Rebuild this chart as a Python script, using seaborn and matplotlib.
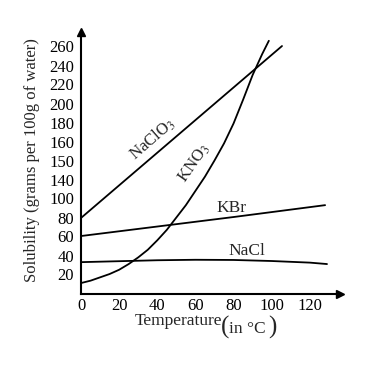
import numpy as np
import pandas as pd
import matplotlib
matplotlib.use("Agg")
import matplotlib.pyplot as plt
import seaborn as sns

# ---- data (y in evenly spaced axis units; tick labels below) ----
nacl_t = [0, 20, 40, 60, 80, 100, 120, 129]
nacl_s = [33, 34, 35, 35.5, 35.3, 34.2, 32.5, 31]

kbr_t = [0, 40, 80, 128]
kbr_s = [60.5, 70.5, 80.5, 93]

naclo3_t = [0, 105.4]
naclo3_s = [79.5, 260.5]

kno3_t = [0, 5, 10, 15, 20, 25, 30, 35, 40, 45, 50, 55, 60, 65, 70, 75, 80,
          85, 90, 95, 98.5]
kno3_s = [11, 13.5, 17, 20.5, 25, 31, 38, 46, 56, 67, 80, 93, 108, 123, 140,
          158, 179, 204, 230, 252, 266]

x_ticks = [0, 20, 40, 60, 80, 100, 120]
y_tick_pos = [20, 40, 60, 80, 100, 120, 140, 160, 180, 200, 220, 240, 260]
y_tick_labels = ["20", "40", "60", "80", "100", "140", "150", "160", "180",
                 "200", "220", "240", "260"]

frames = []
for name, t, s in [("NaCl", nacl_t, nacl_s), ("KBr", kbr_t, kbr_s),
                   ("NaClO3", naclo3_t, naclo3_s), ("KNO3", kno3_t, kno3_s)]:
    frames.append(pd.DataFrame({"T": t, "S": s, "salt": name}))
df = pd.concat(frames, ignore_index=True)

sns.set_theme(style="white")
plt.rcParams["font.family"] = ["Liberation Serif", "DejaVu Serif"]
plt.rcParams["mathtext.fontset"] = "stix"

fig = plt.figure(figsize=(3.75, 3.7), dpi=100)
ax = fig.add_axes([81/375, 1 - 293.5/370, 259/375, 261.5/370])

sns.lineplot(data=df, x="T", y="S", hue="salt", units="salt",
             estimator=None, sort=False, legend=False,
             palette={"NaCl": "black", "KBr": "black", "NaClO3": "black", "KNO3": "black"},
             linewidth=1.3, ax=ax)

ax.set_xlim(0, 259/1.907)
ax.set_ylim(0, 261.5/0.95)
ax.set_xticks(x_ticks)
ax.set_xticklabels([str(v) for v in x_ticks], fontsize=12)
ax.set_yticks(y_tick_pos)
ax.set_yticklabels(y_tick_labels, fontsize=12)
ax.tick_params(axis="x", length=0, pad=3, colors="black")
ax.tick_params(axis="y", length=0, pad=5, colors="black")
ax.set_xlabel("")
ax.set_ylabel("")
for sp in ["top", "right"]:
    ax.spines[sp].set_visible(False)
for sp in ["left", "bottom"]:
    ax.spines[sp].set_color("black")
    ax.spines[sp].set_linewidth(1.5)

# arrow heads
ax.plot(1, 0, ">", color="black", markersize=5.5, transform=ax.transAxes, clip_on=False)
ax.plot(0, 1, "^", color="black", markersize=5.5, transform=ax.transAxes, clip_on=False)

# curve labels
ax.text(37.5, 162, r"NaClO$_3$", fontsize=12, rotation=41, ha="center", va="center")
ax.text(59.5, 137, r"KNO$_3$", fontsize=12, rotation=55, ha="center", va="center")
ax.text(79, 89.5, "KBr", fontsize=12.5, ha="center", va="center")
ax.text(87, 45, "NaCl", fontsize=12.5, ha="center", va="center")

# axis labels
fig.text(32/375, 1 - 160/370, "Solubility (grams per 100g of water)",
         rotation=90, ha="center", va="center", fontsize=12)
fig.text(222/375, 1 - 321/370, "Temperature", ha="right", va="center", fontsize=12.5)
fig.text(221/375, 1 - 327/370, "(", ha="left", va="center", fontsize=18)
fig.text(229/375, 1 - 329/370, "in °C", ha="left", va="center", fontsize=12.5)
fig.text(268/375, 1 - 327/370, ")", ha="left", va="center", fontsize=18)

fig.savefig("out.png", dpi=100)
